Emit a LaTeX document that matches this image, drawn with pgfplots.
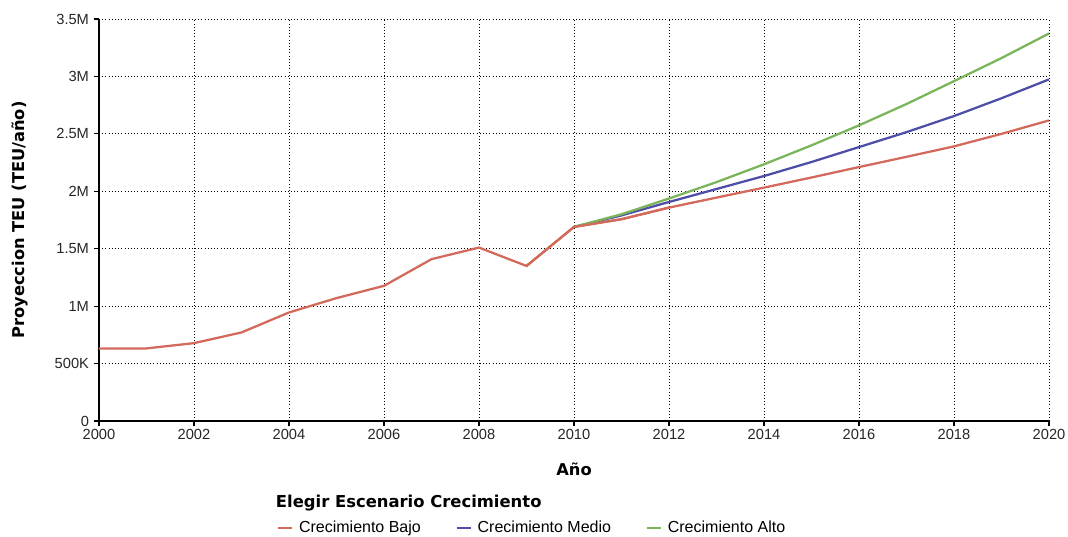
\documentclass[border=0pt]{standalone}
\usepackage{fontspec}
\setmainfont{Liberation Sans}
\newfontfamily\boldlabel{DejaVu Sans}
\usepackage{pgfplots}
\pgfplotsset{compat=1.18}
\definecolor{cBajo}{HTML}{D2695B}
\definecolor{cMedio}{HTML}{4E4EA8}
\definecolor{cAlto}{HTML}{7AB55C}

\begin{document}
\begin{tikzpicture}[x=0.75pt,y=0.75pt]
% picture frame in reference pixels (axis origin at 99,421 of 1068x536)
\useasboundingbox (-99,-115) rectangle (969,421);
\begin{axis}[
  scale only axis,
  width=712.5pt, height=301.5pt,
  at={(0,0)}, anchor=south west,
  clip=false,
  xmin=2000, xmax=2020, ymin=0, ymax=3.5,
  xtick={2000,2002,...,2020},
  ytick={0,0.5,1,1.5,2,2.5,3,3.5},
  yticklabels={0,500K,1M,1.5M,2M,2.5M,3M,3.5M},
  xticklabel style={/pgf/number format/1000 sep={}},
  /pgf/number format/assume math mode=true,
  axis x line=bottom, axis y line=left,
  axis line style={line width=1.6pt, -},
  tick style={black, line width=0.8pt},
  tick align=outside, major tick length=4pt,
  grid=major,
  major grid style={black, dotted, line width=0.6pt},
  tick label style={font=\fontsize{11}{12}\selectfont, text=black!85},
  xticklabel style={yshift=1pt},
  xlabel={Año},
  ylabel={Proyeccion TEU (TEU/año)},
  label style={font=\boldlabel\bfseries\fontsize{12.2}{14}\selectfont},
  xlabel style={at={(axis description cs:0.5,-0.119)}, anchor=center},
  ylabel style={at={(axis description cs:-0.0833,0.5)}, anchor=center},
  every axis plot/.append style={line width=1.7pt},
  legend columns=3,
  legend style={draw=none, fill=none, inner sep=0pt,
    at={(axis description cs:0.187,-0.266)}, anchor=west,
    font=\fontsize{12}{13}\selectfont,
    /tikz/every odd column/.append style={column sep=2.5pt},
    /tikz/every even column/.append style={column sep=24pt}},
  legend image code/.code={\draw[#1, line width=1.6pt] (0pt,0pt) -- (10.5pt,0pt);},
]
\addplot[cBajo] coordinates {
  (2000,0.632)(2001,0.632)(2002,0.678)(2003,0.771)(2004,0.945)(2005,1.070)
  (2006,1.177)(2007,1.409)(2008,1.510)(2009,1.350)(2010,1.690)
  (2011,1.757)(2012,1.858)(2013,1.945)(2014,2.032)(2015,2.120)(2016,2.211)
  (2017,2.300)(2018,2.391)(2019,2.500)(2020,2.617)};
\addlegendentry{Crecimiento Bajo}
\addplot[cMedio] coordinates {
  (2010,1.690)(2011,1.790)(2012,1.907)(2013,2.020)(2014,2.133)(2015,2.255)
  (2016,2.385)(2017,2.515)(2018,2.655)(2019,2.810)(2020,2.974)};
\addlegendentry{Crecimiento Medio}
\addplot[cAlto] coordinates {
  (2010,1.690)(2011,1.800)(2012,1.937)(2013,2.080)(2014,2.235)(2015,2.400)
  (2016,2.574)(2017,2.760)(2018,2.959)(2019,3.160)(2020,3.374)};
\addlegendentry{Crecimiento Alto}
% replot the low scenario on top so it stays visible at 2010-2011
\addplot[cBajo, forget plot] coordinates {(2009,1.350)(2010,1.690)(2011,1.757)(2012,1.858)};
\node[anchor=west, font=\boldlabel\bfseries\fontsize{12.3}{14}\selectfont, inner sep=0pt]
  at (axis description cs:0.186,-0.204) {Elegir Escenario Crecimiento};
\end{axis}
\end{tikzpicture}
\end{document}
